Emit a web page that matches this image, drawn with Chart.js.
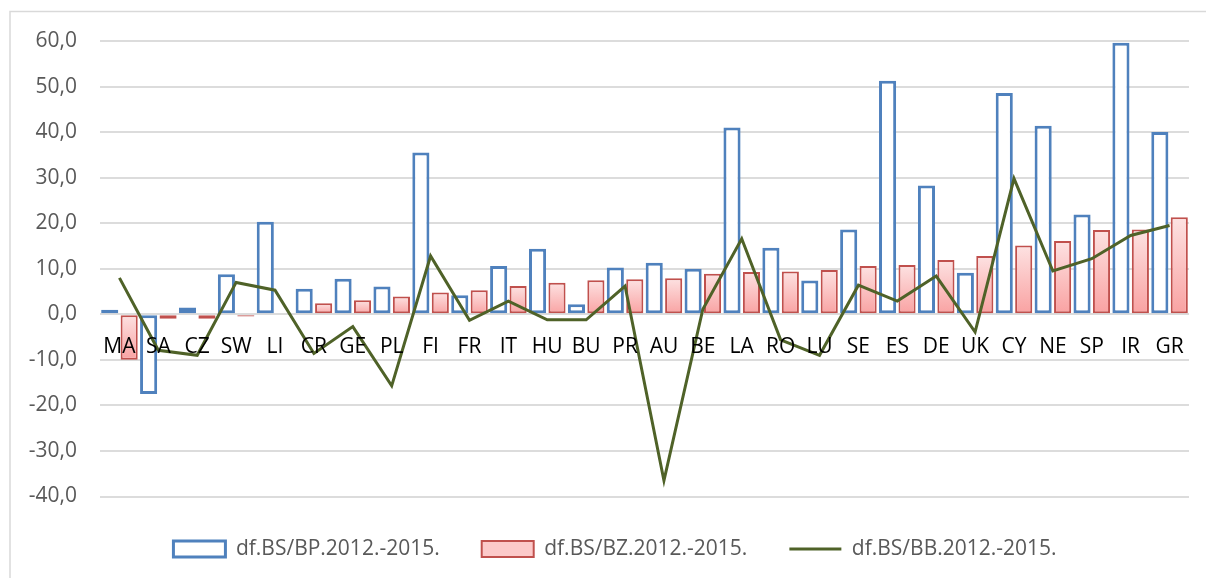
<!DOCTYPE html>
<html>
<head>
<meta charset="utf-8">
<script src="https://cdn.jsdelivr.net/npm/chart.js"></script>
<style>
  body { margin: 0; background: #fff; }
  #wrap { width: 1206px; height: 578px; }
</style>
</head>
<body>
<div id="wrap"><canvas id="chart" width="1206" height="578"></canvas></div>
<script>
// countries (category axis)
const countries = ['MA','SA','CZ','SW','LI','CR','GE','PL','FI','FR','IT','HU','BU','PR','AU','BE','LA','RO','LU','SE','ES','DE','UK','CY','NE','SP','IR','GR'];

// df.BS/BP.2012.-2015.
const bpValues = [1.0, -17.5, 1.5, 8.8, 20.3, 5.6, 7.8, 6.1, 35.5, 4.2, 10.6, 14.4, 2.2, 10.3, 11.3, 10.0, 41.0, 14.6, 7.4, 18.6, 51.3, 28.3, 9.1, 48.6, 41.4, 21.9, 59.6, 40.0];
// df.BS/BZ.2012.-2015.
const bzValues = [-10.0, -1.0, -1.0, -0.5, null, 2.4, 3.1, 3.9, 4.8, 5.3, 6.2, 6.9, 7.5, 7.7, 7.9, 8.9, 9.3, 9.4, 9.7, 10.6, 10.8, 11.9, 12.8, 15.1, 16.1, 18.5, 18.6, 21.3];
// df.BS/BB.2012.-2015.
const bbValues = [8.0, -7.9, -9.0, 7.0, 5.3, -8.6, -2.7, -15.7, 12.8, -1.3, 2.9, -1.2, -1.2, 6.2, -36.5, 1.1, 16.6, -5.6, -9.0, 6.4, 2.9, 8.4, -3.9, 29.8, 9.5, 12.2, 17.3, 19.5];

const seriesNames = ['df.BS/BP.2012.-2015.', 'df.BS/BZ.2012.-2015.', 'df.BS/BB.2012.-2015.'];

const yMin = -40, yMax = 60, yStep = 10;

const font = 'Open Sans';

// pink gradient per bar, like the office chart
function pinkFill(c) {
    const chart = c.chart;
    if (!chart.chartArea || c.raw == null) return '#fbc6c6';
    const y = chart.scales.y;
    const top = y.getPixelForValue(Math.max(c.raw, 0));
    const bot = y.getPixelForValue(Math.min(c.raw, 0));
    const g = chart.ctx.createLinearGradient(0, top, 0, bot + 0.5);
    g.addColorStop(0, '#fde2e2');
    g.addColorStop(1, '#f9a1a1');
    return g;
}

const frame = {
    id: 'frame',
    beforeDraw(chart) {
        const ctx = chart.ctx;
        ctx.save();
        ctx.strokeStyle = '#d9d9d9';
        ctx.lineWidth = 1.5;
        ctx.strokeRect(10, 11.5, 1300, 700);
        ctx.restore();
    }
};

new Chart(document.getElementById('chart'), {
    type: 'bar',
    data: {
        labels: countries,
        datasets: [{
            label: seriesNames[0],
            data: bpValues,
            backgroundColor: '#ffffff',
            borderColor: '#4f81bd',
            borderWidth: 3,
            borderSkipped: false,
            order: 1
        }, {
            label: seriesNames[1],
            data: bzValues,
            backgroundColor: pinkFill,
            borderColor: '#c0504d',
            borderWidth: 2,
            borderSkipped: false,
            order: 2
        }, {
            type: 'line',
            label: seriesNames[2],
            data: bbValues,
            borderColor: '#4f6228',
            backgroundColor: '#4f6228',
            borderWidth: 3,
            pointRadius: 0,
            tension: 0,
            order: 0
        }]
    },
    options: {
        responsive: false,
        animation: false,
        categoryPercentage: 1.0,
        barPercentage: 0.88,
        layout: { padding: { left: 24, right: 0, top: 41, bottom: 8.5 } },
        scales: {
            x: {
                position: { y: 0 },
                grid: { display: false, drawTicks: false },
                border: { display: false },
                ticks: {
                    z: 1, // labels sit over the bars
                    autoSkip: false,
                    maxRotation: 0,
                    padding: 20,
                    color: '#000000',
                    font: { family: font, size: 21 }
                }
            },
            y: {
                min: yMin,
                max: yMax,
                grid: { color: '#dcdcdc', lineWidth: 2, drawTicks: false },
                border: { display: false },
                ticks: {
                    stepSize: yStep,
                    padding: 23,
                    color: '#595959',
                    font: { family: font, size: 21 },
                    callback: v => v.toFixed(1).replace('.', ',')
                },
                afterFit: s => { s.width = 76; }
            },
            // empty strip on the right, keeps the plot edge at the reference position
            yRight: {
                position: 'right',
                grid: { display: false, drawTicks: false },
                border: { display: false },
                ticks: { display: false },
                afterFit: s => { s.width = 17; }
            }
        },
        plugins: {
            tooltip: { enabled: false },
            legend: {
                position: 'bottom',
                labels: {
                    usePointStyle: true,
                    pointStyleWidth: 52,
                    boxHeight: 16,
                    padding: 42,
                    color: '#595959',
                    font: { family: font, size: 21 },
                    sort: (a, b) => a.datasetIndex - b.datasetIndex,
                    generateLabels(chart) {
                        const items = Chart.defaults.plugins.legend.labels.generateLabels(chart);
                        items.forEach(it => {
                            const i = it.datasetIndex;
                            it.pointStyle = i === 2 ? 'line' : 'rect';
                            if (i === 1) it.fillStyle = '#fcc9c9';
                            if (i === 0) it.fillStyle = '#ffffff';
                        });
                        return items;
                    }
                }
            }
        }
    },
    plugins: [frame]
});
</script>
</body>
</html>
